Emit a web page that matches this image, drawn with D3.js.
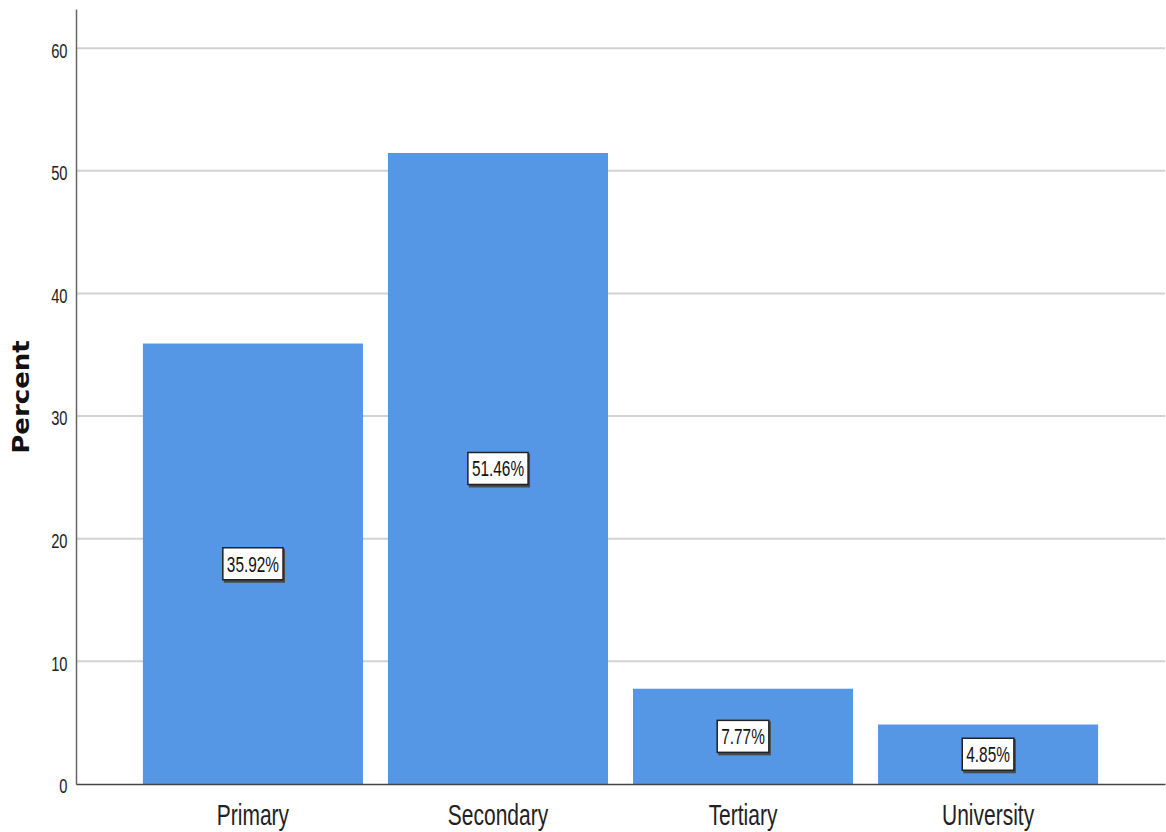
<!DOCTYPE html>
<html>
  <head>
    <meta charset="utf-8" />
    <title>Percent by Education Level</title>
    <script src="https://d3js.org/d3.v7.min.js"></script>
    <style>
      body {
        margin: 0;
        background: #fff;
      }
      svg {
        display: block;
      }
      .narrow {
        font-family: "Liberation Sans", Arial, sans-serif;
      }
    </style>
  </head>
  <body>
    <svg width="1166" height="832"></svg>

    <script>
      const categories = ["Primary", "Secondary", "Tertiary", "University"];
      const percents = [35.92, 51.46, 7.77, 4.85];
      const yTicks = [0, 10, 20, 30, 40, 50, 60];

      const svg = d3.select("svg");
      const barColor = "#5596e5";
      const squeeze = 0.7; // glyphs in the source are drawn narrow

      const x = d3.scaleBand()
        .domain(categories)
        .range([76, 1165])
        .paddingInner(0.102)
        .paddingOuter(0.273);

      const y = d3.scaleLinear()
        .domain([0, 63.2])
        .range([784, 9]);

      // gridlines
      svg.append("g")
        .selectAll("line")
        .data(yTicks.filter(d => d > 0))
        .join("line")
        .attr("x1", 77)
        .attr("x2", 1165)
        .attr("y1", d => y(d))
        .attr("y2", d => y(d))
        .attr("stroke", "#d2d2d2")
        .attr("stroke-width", 2);

      // bars
      svg.append("g")
        .selectAll("rect")
        .data(percents)
        .join("rect")
        .attr("x", (d, i) => x(categories[i]))
        .attr("y", d => y(d))
        .attr("width", x.bandwidth())
        .attr("height", d => y(0) - y(d))
        .attr("fill", barColor);

      // y axis
      const yAxis = d3.axisLeft(y).tickValues(yTicks).tickSize(0);
      const yg = svg.append("g")
        .attr("transform", "translate(76,0)")
        .call(yAxis);
      yg.select(".domain").attr("stroke", "#666").attr("stroke-width", 1.5);
      yg.selectAll("text")
        .attr("class", "narrow")
        .attr("font-size", 21)
        .attr("fill", "#222")
        .attr("x", -8.5 / squeeze)
        .attr("dy", "0.42em")
        .attr("transform", `scale(${squeeze},1)`);

      // x axis
      const xAxis = d3.axisBottom(x).tickSize(0);
      const xg = svg.append("g")
        .attr("transform", "translate(0,784)")
        .call(xAxis);
      xg.select(".domain").attr("stroke", "#444").attr("stroke-width", 1.5);
      xg.selectAll("text")
        .attr("class", "narrow")
        .attr("font-size", 30)
        .attr("fill", "#222")
        .attr("y", 41)
        .attr("dy", 0)
        .attr("transform", `scale(${squeeze},1)`);

      // y axis title
      svg.append("text")
        .attr("transform", "translate(29,397) rotate(-90) scale(1,0.85)")
        .attr("text-anchor", "middle")
        .attr("font-family", "DejaVu Sans, sans-serif")
        .attr("font-weight", "bold")
        .attr("font-size", 26)
        .attr("fill", "#111")
        .text("Percent");

      // value labels in boxes
      const labels = svg.append("g")
        .selectAll("g")
        .data(percents)
        .join("g")
        .attr("transform", (d, i) =>
          `translate(${x(categories[i]) + x.bandwidth() / 2},${y(d / 2)})`);

      labels.each(function (d) {
        const g = d3.select(this);
        const shadow = g.append("rect").attr("fill", "#4a4a4a");
        const box = g.append("rect")
          .attr("fill", "#fff")
          .attr("stroke", "#222")
          .attr("stroke-width", 1.5);
        const t = g.append("text")
          .attr("class", "narrow")
          .attr("text-anchor", "middle")
          .attr("dy", "0.36em")
          .attr("font-size", 22)
          .attr("fill", "#111")
          .attr("transform", `scale(${squeeze},1)`)
          .text(d.toFixed(2) + "%");
        const w = t.node().getComputedTextLength() * squeeze + 8;
        box.attr("x", -w / 2).attr("y", -16).attr("width", w).attr("height", 32);
        shadow.attr("x", -w / 2 + 1).attr("y", -15).attr("width", w + 1).attr("height", 34);
      });
    </script>
  </body>
</html>
